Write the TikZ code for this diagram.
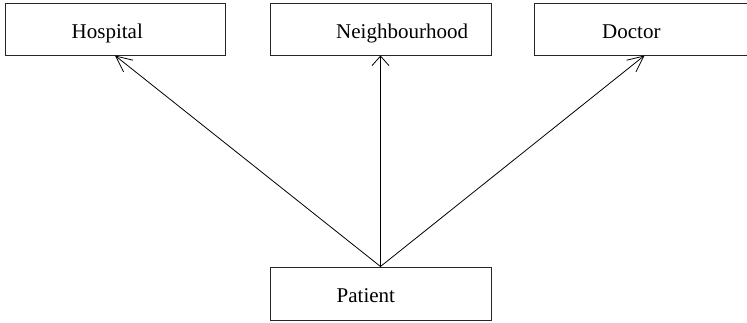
\documentclass[tikz,border=0pt]{standalone}
\usepackage{fontspec}
\setmainfont{Liberation Serif}
\usetikzlibrary{arrows.meta}
\begin{document}
\begin{tikzpicture}[x=1pt,y=-1pt,
  box/.style={draw=black!85,line width=1pt,rectangle,inner sep=0pt},
  lbl/.style={anchor=base west,inner sep=0pt,font=\fontsize{21}{24}\selectfont},
  conn/.style={line width=0.8pt},
  headv/.style={-{Straight Barb[length=9.5pt,width=17pt,line width=0.8pt]}},
  headd/.style={-{Straight Barb[length=16pt,width=15pt,line width=0.8pt]}}]
\useasboundingbox (0,0) rectangle (747,322);
\clip (0,0) rectangle (747,322);
\node[box,minimum width=220pt,minimum height=52pt] (h) at (115,29) {};
\node[box,minimum width=221pt,minimum height=52pt] (n) at (380.5,29) {};
\node[box,minimum width=221pt,minimum height=52pt] (d) at (644.5,29) {};
\node[box,minimum width=221pt,minimum height=53pt] (p) at (380.5,293.5) {};
\node[lbl] (ht) at (71.5,38.3) {Hospital};
\node[lbl] (nt) at (336,38.3) {Neighbourhood};
\node[lbl] (dt) at (602,38.3) {Doctor};
\node[lbl] (pt) at (336.5,302.7) {Patient};
\draw[conn,headd] (p.north) -- (h.south);
\draw[conn,headv] (p.north) -- (n.south);
\draw[conn,headd] (p.north) -- (d.south);
\end{tikzpicture}
\end{document}
